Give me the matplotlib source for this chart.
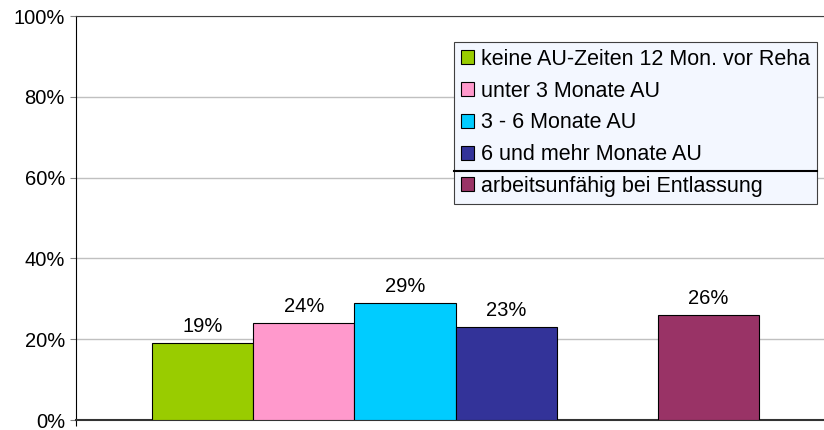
import matplotlib.pyplot as plt
from matplotlib.patches import Patch
from matplotlib.lines import Line2D

# data
labels = ['keine AU-Zeiten 12 Mon. vor Reha', 'unter 3 Monate AU',
          '3 - 6 Monate AU', '6 und mehr Monate AU',
          'arbeitsunfähig bei Entlassung']
values = [19, 24, 29, 23, 26]
positions = [0, 1, 2, 3, 5]
colors = ['#99CC00', '#FF99CC', '#00CCFF', '#333399', '#993366']
yticks = [0, 20, 40, 60, 80, 100]

plt.rcParams['font.family'] = ['Liberation Sans', 'DejaVu Sans']
FS = 14.5
LEG_FS = 15.5

W, H = 824, 430
fig = plt.figure(figsize=(W / 100, H / 100), dpi=100)
ax = fig.add_axes([76 / W, 10 / H, 748 / W, 404 / H])

ax.bar(positions, values, width=1.0, color=colors, edgecolor='black',
       linewidth=0.8, zorder=3)

for x, v in zip(positions, values):
    ax.annotate(f'{v}%', (x, v), xytext=(0, 5), textcoords='offset points',
                ha='center', va='bottom', fontsize=FS)

ax.set_xlim(-1.25, 6.14)
ax.set_ylim(0, 100)
ax.set_yticks(yticks)
ax.set_yticklabels([f'{t}%' for t in yticks], fontsize=FS)
ax.set_xticks([-1.25])
ax.set_xticklabels([''])
ax.tick_params(axis='y', length=4, color='#808080', pad=4)
ax.tick_params(axis='x', length=4, color='black')

ax.grid(axis='y', color='#C0C0C0', linewidth=1, zorder=0)
ax.set_axisbelow(True)

ax.spines['right'].set_visible(False)
ax.spines['top'].set_color('#404040')
ax.spines['left'].set_color('black')
ax.spines['bottom'].set_color('#333333')
ax.spines['bottom'].set_linewidth(1.5)

handles = [Patch(facecolor=c, edgecolor='black', linewidth=0.8) for c in colors]
leg = ax.legend(handles, labels, loc='upper left',
                bbox_to_anchor=(454 / W, 1 - 42 / H), bbox_transform=fig.transFigure,
                borderaxespad=0, fontsize=LEG_FS, frameon=True, fancybox=False,
                facecolor='#F3F7FF', edgecolor='#404040', framealpha=1,
                handlelength=0.62, handleheight=0.62, handletextpad=0.3,
                labelspacing=0.5, borderpad=0.32)
leg.get_frame().set_linewidth(0.8)

# separator between the fourth and fifth legend entry
fig.canvas.draw()
frame = leg.get_frame().get_window_extent()
t4 = leg.get_texts()[3].get_window_extent()
t5 = leg.get_texts()[4].get_window_extent()
ysep = (t4.y0 + t5.y1) / 2
fig.add_artist(Line2D([frame.x0 / W, frame.x1 / W], [ysep / H, ysep / H],
                      transform=fig.transFigure, color='black', linewidth=1.5,
                      zorder=10))

fig.savefig('out.png', dpi=100)
